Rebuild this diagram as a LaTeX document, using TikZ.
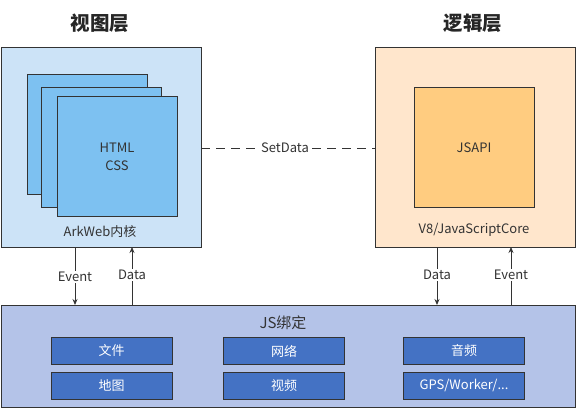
\documentclass[tikz,border=0pt]{standalone}
\usepackage{fontspec}
\setmainfont{Noto Sans CJK SC}
\usetikzlibrary{arrows.meta}
\definecolor{lineC}{HTML}{333333}
\definecolor{viewBg}{HTML}{CCE3F7}
\definecolor{pageC}{HTML}{7DC1F1}
\definecolor{logicBg}{HTML}{FFE6CC}
\definecolor{jsapiC}{HTML}{FFCC80}
\definecolor{bindBg}{HTML}{B4C3E8}
\definecolor{modC}{HTML}{4472C4}
\tikzset{
  box/.style={draw=lineC, line width=0.8pt, inner sep=0pt, outer sep=0pt},
  lbl/.style={font=\fontsize{13}{15}\selectfont, text=lineC, inner sep=1pt},
  ttl/.style={font=\fontsize{19.5}{22}\selectfont\bfseries, text=black!85},
  mod/.style={box, fill=modC, minimum width=121pt, minimum height=27pt, text=white, font=\fontsize{13}{15}\selectfont},
  arr/.style={draw=lineC, line width=0.8pt, -{Stealth[length=6pt,width=5pt]}},
  ln/.style={draw=lineC, line width=0.8pt},
}
\begin{document}
\begin{tikzpicture}[x=1pt,y=-1pt]
\useasboundingbox (0,0) rectangle (576,409);
% titles
\node[ttl] (t1) at (100,23) {视图层};
\node[ttl] (t2) at (473,23) {逻辑层};
% view layer
\draw[box, fill=viewBg] (1,47) rectangle (201,247);
\node[box, fill=pageC, minimum width=120pt, minimum height=120pt] (p1) at (87,134) {};
\node[box, fill=pageC, minimum width=120pt, minimum height=120pt] (p2) at (101,147) {};
\node[box, fill=pageC, minimum width=120pt, minimum height=120pt] (p3) at (117,156) {};
\node[lbl, align=center] (html) at (117,148) {HTML};
\node[lbl] (css) at (117,166) {CSS};
\node[lbl] (ark) at (100,232) {ArkWeb内核};
\coordinate (vR) at (201,148);
% logic layer
\draw[box, fill=logicBg] (375,47) rectangle (575,247);
\node[box, fill=jsapiC, minimum width=120pt, minimum height=120pt] (js) at (474,147) {};
\node[lbl] (jsapi) at (474,148) {JSAPI};
\node[lbl] (v8) at (474,230) {V8/JavaScriptCore};
\coordinate (lL) at (375,148);
% setdata
\node[lbl, fill=white, inner sep=3pt] (sd) at (285,148) {SetData};
\draw[ln, dash pattern=on 9pt off 6pt] (vR) -- (sd.west);
\draw[ln, dash pattern=on 9pt off 6pt] (sd.east) -- (lL);
% bottom
\draw[box, fill=bindBg] (1,305) rectangle (575,407);
\node[lbl, font=\fontsize{15}{17}\selectfont] (jsb) at (283,323) {JS绑定};
\node[mod] (m1) at (111.5,351) {文件};
\node[mod] (m2) at (284,351) {网络};
\node[mod] (m3) at (464,351) {音频};
\node[mod] (m4) at (111.5,385.5) {地图};
\node[mod] (m5) at (284,385.5) {视频};
\node[mod] (m6) at (464,385.5) {GPS/Worker/...};
% arrows
\coordinate (a1t) at (75,247); \coordinate (a1b) at (75,305);
\coordinate (a2t) at (132,247); \coordinate (a2b) at (132,305);
\coordinate (a3t) at (437,247); \coordinate (a3b) at (437,305);
\coordinate (a4t) at (511,247); \coordinate (a4b) at (511,305);
\node[lbl, fill=white] (e1) at (75,277) {Event};
\node[lbl, fill=white] (d1) at (132,275) {Data};
\node[lbl, fill=white] (d2) at (437,275) {Data};
\node[lbl, fill=white] (e2) at (511,275) {Event};
\draw[ln] (a1t) -- (e1.north);
\draw[arr] (e1.south) -- (a1b);
\draw[ln] (a2b) -- (d1.south);
\draw[arr] (d1.north) -- (a2t);
\draw[ln] (a3t) -- (d2.north);
\draw[arr] (d2.south) -- (a3b);
\draw[ln] (a4b) -- (e2.south);
\draw[arr] (e2.north) -- (a4t);
\end{tikzpicture}
\end{document}
